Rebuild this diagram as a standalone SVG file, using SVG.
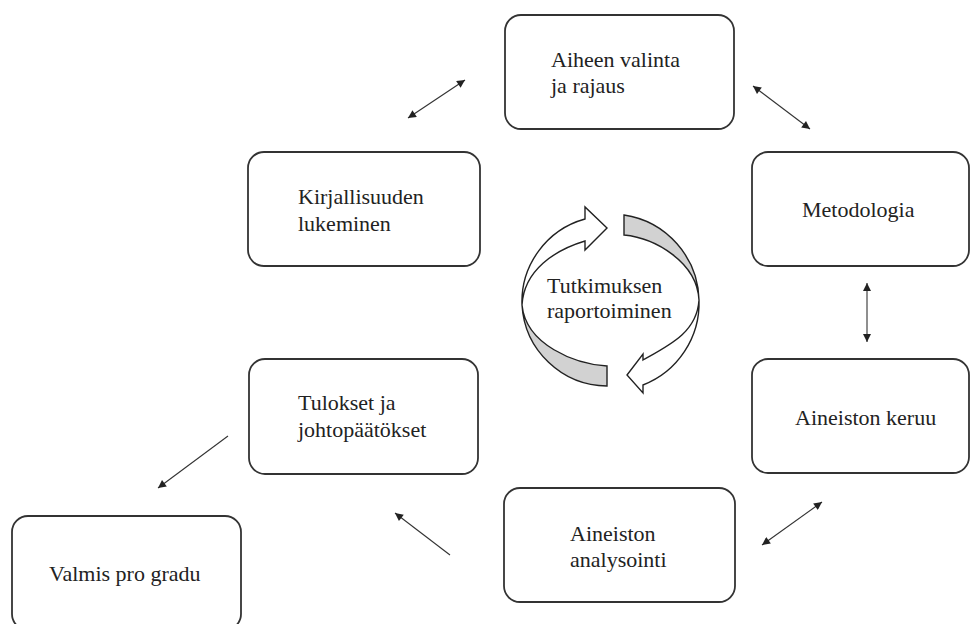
<svg xmlns="http://www.w3.org/2000/svg" width="971" height="624" viewBox="0 0 971 624">
<style>
.box{fill:#fff;stroke:#333;stroke-width:1.8}
.t{font-family:"Liberation Serif","Times New Roman",serif;font-size:22px;fill:#222}
.con{stroke:#333;stroke-width:1.1;fill:none}
.white{fill:#fff;stroke:#222;stroke-width:1.4;stroke-linejoin:miter}
.gray{fill:#d2d2d2;stroke:#222;stroke-width:1.4}
</style>
<defs>
<marker id="ah" viewBox="0 0 10 10" refX="10" refY="5" markerWidth="9" markerHeight="8" markerUnits="userSpaceOnUse" orient="auto-start-reverse">
<path d="M0,0 L10,5 L0,10 z" fill="#222"/>
</marker>
</defs>
<rect width="971" height="624" fill="#fff"/>
<g id="connectors">
<line class="con" x1="408" y1="118" x2="465" y2="80" marker-start="url(#ah)" marker-end="url(#ah)"/>
<line class="con" x1="753" y1="86" x2="810" y2="129" marker-start="url(#ah)" marker-end="url(#ah)"/>
<line class="con" x1="867" y1="283" x2="867" y2="342" marker-start="url(#ah)" marker-end="url(#ah)"/>
<line class="con" x1="762" y1="545" x2="822" y2="502" marker-start="url(#ah)" marker-end="url(#ah)"/>
<line class="con" x1="450" y1="555" x2="395" y2="513" marker-end="url(#ah)"/>
<line class="con" x1="228" y1="436" x2="158" y2="488" marker-end="url(#ah)"/>
</g>
<g id="aiheen">
<rect class="box" x="505" y="15" width="229" height="114" rx="16"/>
<text class="t" x="551" y="67">Aiheen valinta</text>
<text class="t" x="551" y="93">ja rajaus</text>
</g>
<g id="kirjallisuuden">
<rect class="box" x="248" y="152" width="232" height="114" rx="16"/>
<text class="t" x="298" y="204">Kirjallisuuden</text>
<text class="t" x="298" y="231">lukeminen</text>
</g>
<g id="metodologia">
<rect class="box" x="752" y="152" width="217" height="114" rx="16"/>
<text class="t" x="802" y="217">Metodologia</text>
</g>
<g id="keruu">
<rect class="box" x="752" y="359" width="217" height="114" rx="16"/>
<text class="t" x="795" y="425">Aineiston keruu</text>
</g>
<g id="analysointi">
<rect class="box" x="504" y="488" width="231" height="114" rx="16"/>
<text class="t" x="570" y="541">Aineiston</text>
<text class="t" x="570" y="567">analysointi</text>
</g>
<g id="tulokset">
<rect class="box" x="249" y="359" width="229" height="115" rx="16"/>
<text class="t" x="298" y="410">Tulokset ja</text>
<text class="t" x="298" y="437">johtopäätökset</text>
</g>
<g id="valmis">
<rect class="box" x="12" y="516" width="229" height="114" rx="16"/>
<text class="t" x="49" y="581">Valmis pro gradu</text>
</g>
<g id="raportointi">
<path class="gray" d="M522,305 A86 86 0 0 0 607,386 L607,366 C575,364 526,345 522,305 Z"/>
<path class="white" d="M522,305 A86 86 0 0 1 585,219 L585,207 L607,228 L585,250 L585,241 C555,250 524,270 522,305 Z"/>
<path class="gray" d="M699,300 A88 88 0 0 0 624,215 L624,235 C655,238 697,262 699,300 Z"/>
<path class="white" d="M699,300 A88 88 0 0 1 643,385 L643,393 L627,375 L643,354 L643,360 C670,345 697,332 699,300 Z"/>
<text class="t" x="547" y="293">Tutkimuksen</text>
<text class="t" x="547" y="318">raportoiminen</text>
</g>
</svg>
